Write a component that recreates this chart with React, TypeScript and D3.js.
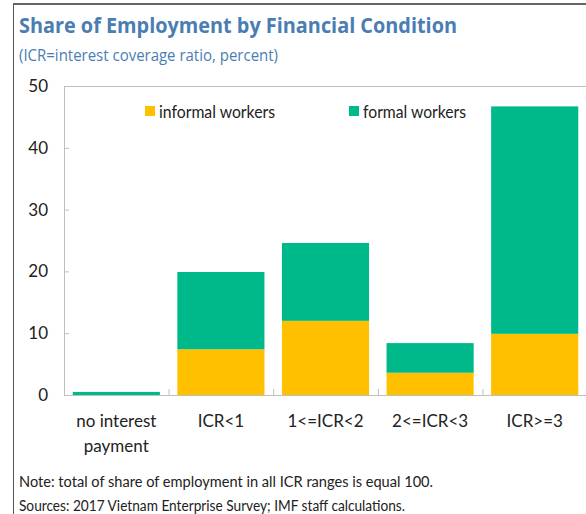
import React from "react";
import * as d3 from "d3";

const categories = ["no interest payment", "ICR<1", "1<=ICR<2", "2<=ICR<3", "ICR>=3"];
const categoryLines = [["no interest", "payment"], ["ICR<1"], ["1<=ICR<2"], ["2<=ICR<3"], ["ICR>=3"]];
const informal = [0, 7.4, 12.0, 3.6, 9.9];
const formal = [0.5, 12.5, 12.6, 4.8, 36.8];
const yTicks = [0, 10, 20, 30, 40, 50];
const seriesNames = ["informal workers", "formal workers"];
const colors = ["#FFC000", "#00B98B"];

const W = 586;
const H = 514;
const plot = { left: 64, right: 587, top: 86, bottom: 395 };
const FONT = "'Open Sans', 'Noto Sans', sans-serif";
const BODY = "Lato, 'Open Sans', sans-serif";

export default function App() {
  const x = d3.scaleBand<string>().domain(categories).range([plot.left, plot.right]).paddingInner(0.167).paddingOuter(0.0835);
  const xb = d3.scaleBand<string>().domain(categories).range([plot.left, plot.right]);
  const y = d3.scaleLinear().domain([0, 50]).range([plot.bottom, plot.top]);
  const rows = categories.map((c, i) => ({ c, informal: informal[i], formal: formal[i] }));
  const stack = d3.stack<any>().keys(["informal", "formal"])(rows);

  return (
    <svg width={W} height={H} style={{ position: "absolute", left: 0, top: 0, background: "#fff" }}>
      <rect x={0} y={0} width={W} height={H} fill="#fff" />
      {/* outer frame */}
      <line x1={13} x2={W} y1={4} y2={4} stroke="#666" strokeWidth={2} />
      <line x1={13.5} x2={13.5} y1={4} y2={H} stroke="#555" strokeWidth={1} />
      <text x={19} y={33} fill="#4A7EB3" fontFamily={FONT} fontWeight={700} fontSize={22} textLength={438} lengthAdjust="spacingAndGlyphs">
        Share of Employment by Financial Condition
      </text>
      <text x={19} y={61} fill="#4A7EB3" fontFamily={FONT} fontSize={16} textLength={259} lengthAdjust="spacingAndGlyphs">
        (ICR=interest coverage ratio, percent)
      </text>
      {/* plot border */}
      <line x1={plot.left} x2={W} y1={plot.top + 0.5} y2={plot.top + 0.5} stroke="#BFBFBF" />
      <line x1={plot.left + 0.5} x2={plot.left + 0.5} y1={plot.top} y2={plot.bottom} stroke="#BFBFBF" />
      {/* bars */}
      {stack.map((s, si) =>
        s.map((d, i) => (
          <rect
            key={si + "-" + i}
            x={x(categories[i])}
            width={x.bandwidth()}
            y={y(d[1])}
            height={Math.max(0, y(d[0]) - y(d[1]))}
            fill={colors[si]}
          />
        ))
      )}
      <line x1={plot.left} x2={W} y1={plot.bottom + 0.5} y2={plot.bottom + 0.5} stroke="#BFBFBF" />
      {/* y ticks */}
      {yTicks.map((t) => (
        <g key={t}>
          {t > 0 && t < 50 && <line x1={plot.left} x2={plot.left + 5} y1={y(t) + 0.5} y2={y(t) + 0.5} stroke="#BFBFBF" />}
          <text x={48} y={y(t) + 6} textAnchor="end" fontFamily={BODY} fontSize={17} fill="#222">
            {t}
          </text>
        </g>
      ))}
      {/* x category separators */}
      {categories.slice(1).map((c) => (
        <line key={c} x1={(xb(c) as number) + 0.5} x2={(xb(c) as number) + 0.5} y1={plot.bottom - 6} y2={plot.bottom} stroke="#BFBFBF" />
      ))}
      {categories.map((c, i) => (
        <text key={c} x={(xb(c) as number) + xb.bandwidth() / 2} y={427} textAnchor="middle" fontFamily={BODY} fontSize={17} fill="#222">
          {categoryLines[i].map((l, j) => (
            <tspan key={j} x={(xb(c) as number) + xb.bandwidth() / 2} dy={j === 0 ? 0 : 25}>
              {l}
            </tspan>
          ))}
        </text>
      ))}
      {/* legend */}
      {seriesNames.map((n, i) => {
        const lx = [145, 349][i];
        const tl = [116, 103][i];
        return (
          <g key={n}>
            <rect x={lx} y={106} width={10} height={10} fill={colors[i]} />
            <text x={lx + 14} y={118} fontFamily={BODY} fontSize={17} fill="#222" textLength={tl} lengthAdjust="spacingAndGlyphs">
              {n}
            </text>
          </g>
        );
      })}
      <text x={19} y={487} fontFamily={BODY} fontSize={14.5} fill="#222" textLength={414} lengthAdjust="spacingAndGlyphs">
        Note: total of share of employment in all ICR ranges is equal 100.
      </text>
      <text x={19} y={511} fontFamily={BODY} fontSize={14.5} fill="#222" textLength={386} lengthAdjust="spacingAndGlyphs">
        Sources: 2017 Vietnam Enterprise Survey; IMF staff calculations.
      </text>
    </svg>
  );
}
